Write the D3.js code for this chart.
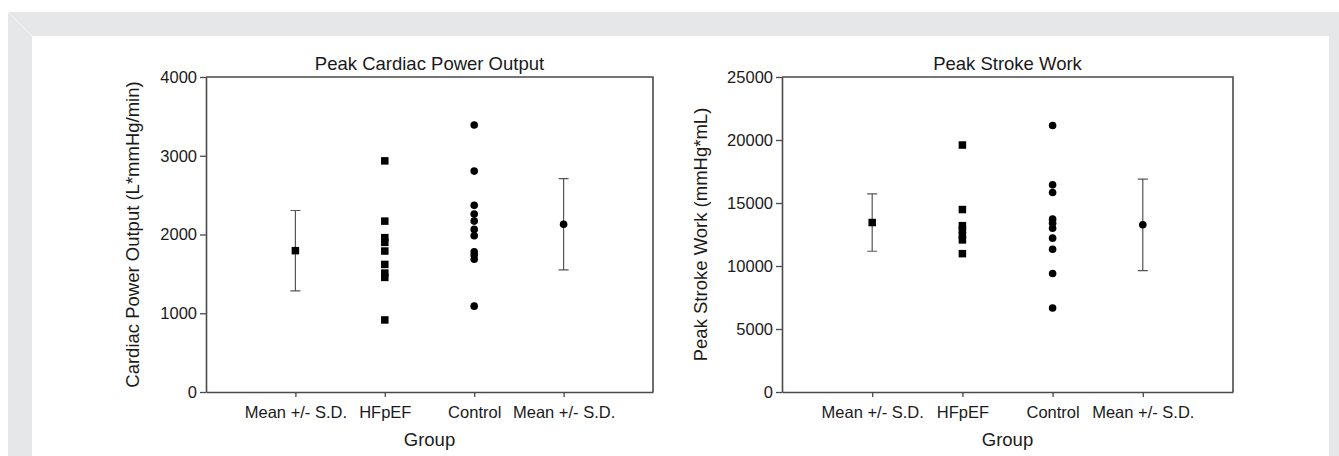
<!DOCTYPE html>
<html>
<head>
<meta charset="utf-8">
<script src="https://cdn.jsdelivr.net/npm/d3@7"></script>
<style>
    body { margin: 0; background: #fff; }
    svg { display: block; font-family: "Liberation Sans", Arial, sans-serif; }
</style>
</head>
<body>
<div class="d3"></div>
<script>
// x categories (positions 1..4 on a 0..5 axis)
var groups = ['Mean +/- S.D.', 'HFpEF', 'Control', 'Mean +/- S.D.'];

// Peak cardiac power output (L*mmHg/min)
var cpoHfpef = [2935, 2170, 1960, 1900, 1790, 1620, 1510, 1455, 915];
var cpoControl = [3390, 2805, 2370, 2260, 2170, 2065, 1985, 1780, 1740, 1685, 1090];
var cpoHfpefMean = 1795, cpoHfpefSd = 510;
var cpoControlMean = 2130, cpoControlSd = 580;
var cpoTicks = [0, 1000, 2000, 3000, 4000];

// Peak stroke work (mmHg*mL)
var swHfpef = [19600, 14480, 13200, 12850, 12450, 12070, 10980];
var swControl = [21150, 16440, 15830, 13720, 13400, 13000, 12210, 11330, 9400, 6670];
var swHfpefMean = 13450, swHfpefSd = 2280;
var swControlMean = 13270, swControlSd = 3630;
var swTicks = [0, 5000, 10000, 15000, 20000, 25000];

var W = 1339, H = 456;

var svg = d3.select('div.d3')
    .append('svg')
    .attr('width', W)
    .attr('height', H);

// grey frame with white panel
svg.append('rect').attr('x', 8).attr('y', 12).attr('width', W - 8).attr('height', H - 12).attr('fill', '#e6e7e9');
svg.append('line').attr('x1', 8).attr('y1', 12).attr('x2', 32).attr('y2', 36).attr('stroke', '#f1f2f3').attr('stroke-width', 1);
svg.append('rect').attr('x', 32).attr('y', 36).attr('width', 1329 - 32).attr('height', H - 36).attr('fill', '#fff');

var panels = [
    {
        left: 206, right: 653, title: 'Peak Cardiac Power Output',
        ylabel: 'Cardiac Power Output (L*mmHg/min)', ylabelX: 139,
        ticks: cpoTicks, hf: cpoHfpef, ctl: cpoControl,
        hfMean: cpoHfpefMean, hfSd: cpoHfpefSd, ctlMean: cpoControlMean, ctlSd: cpoControlSd
    },
    {
        left: 782, right: 1233, title: 'Peak Stroke Work',
        ylabel: 'Peak Stroke Work (mmHg*mL)', ylabelX: 707,
        ticks: swTicks, hf: swHfpef, ctl: swControl,
        hfMean: swHfpefMean, hfSd: swHfpefSd, ctlMean: swControlMean, ctlSd: swControlSd
    }
];

var plotTop = 77, plotBottom = 392;
var ink = '#1a1a1a', axisCol = '#4a4a4a';
var labelFont = 18.5, tickFont = 16.5;

panels.forEach(function(p) {
    var x = d3.scaleLinear().domain([0, 5]).range([p.left, p.right]);
    var y = d3.scaleLinear().domain([0, d3.max(p.ticks)]).range([plotBottom, plotTop]);
    var g = svg.append('g');

    // box (top + right)
    g.append('path')
        .attr('d', 'M' + p.left + ',' + plotTop + 'H' + p.right + 'V' + plotBottom)
        .attr('fill', 'none')
        .attr('stroke', axisCol)
        .attr('stroke-width', 1.6);

    // y axis
    var yAxis = g.append('g')
        .attr('transform', 'translate(' + p.left + ',0)')
        .call(d3.axisLeft(y).tickValues(p.ticks).tickSizeInner(6).tickSizeOuter(0).tickPadding(3)
            .tickFormat(d3.format('d')));

    // x axis
    var xAxis = g.append('g')
        .attr('transform', 'translate(0,' + plotBottom + ')')
        .call(d3.axisBottom(x).tickValues([1, 2, 3, 4]).tickSizeInner(5).tickSizeOuter(0).tickPadding(9)
            .tickFormat(function(d) { return groups[d - 1]; }));

    [yAxis, xAxis].forEach(function(a) {
        a.select('.domain').attr('stroke', axisCol).attr('stroke-width', 1.6);
        a.selectAll('.tick line').attr('stroke', axisCol).attr('stroke-width', 1.3);
        a.selectAll('.tick text').attr('fill', ink).attr('font-size', tickFont)
            .attr('font-family', '"Liberation Sans", Arial, sans-serif');
    });

    // titles
    g.append('text')
        .attr('x', (p.left + p.right) / 2).attr('y', 70)
        .attr('text-anchor', 'middle').attr('font-size', labelFont).attr('fill', ink)
        .text(p.title);

    g.append('text')
        .attr('x', (p.left + p.right) / 2).attr('y', 446)
        .attr('text-anchor', 'middle').attr('font-size', labelFont).attr('fill', ink)
        .text('Group');

    g.append('text')
        .attr('transform', 'translate(' + p.ylabelX + ',' + (plotTop + plotBottom) / 2 + ') rotate(-90)')
        .attr('text-anchor', 'middle').attr('font-size', labelFont).attr('fill', ink)
        .text(p.ylabel);

    // error bars
    var bars = [
        { pos: 1, mean: p.hfMean, sd: p.hfSd },
        { pos: 4, mean: p.ctlMean, sd: p.ctlSd }
    ];
    bars.forEach(function(b) {
        var cx = x(b.pos), cap = 5;
        var lo = y(b.mean - b.sd), hi = y(b.mean + b.sd);
        g.append('path')
            .attr('d', 'M' + cx + ',' + hi + 'V' + lo +
                'M' + (cx - cap) + ',' + hi + 'H' + (cx + cap) +
                'M' + (cx - cap) + ',' + lo + 'H' + (cx + cap))
            .attr('stroke', '#555').attr('stroke-width', 1.2).attr('fill', 'none');
    });

    // HFpEF squares (mean + individuals)
    var sq = 7.5;
    g.selectAll('rect.hf')
        .data(p.hf.map(function(v) { return { pos: 2, v: v }; }).concat([{ pos: 1, v: p.hfMean }]))
        .enter()
        .append('rect')
        .attr('class', 'hf')
        .attr('x', function(d) { return x(d.pos) - sq / 2; })
        .attr('y', function(d) { return y(d.v) - sq / 2; })
        .attr('width', sq).attr('height', sq)
        .attr('fill', '#000');

    // Control circles (individuals + mean)
    g.selectAll('circle.ctl')
        .data(p.ctl.map(function(v) { return { pos: 3, v: v }; }).concat([{ pos: 4, v: p.ctlMean }]))
        .enter()
        .append('circle')
        .attr('class', 'ctl')
        .attr('cx', function(d) { return x(d.pos); })
        .attr('cy', function(d) { return y(d.v); })
        .attr('r', 3.8)
        .attr('fill', '#000');
});
</script>
</body>
</html>
